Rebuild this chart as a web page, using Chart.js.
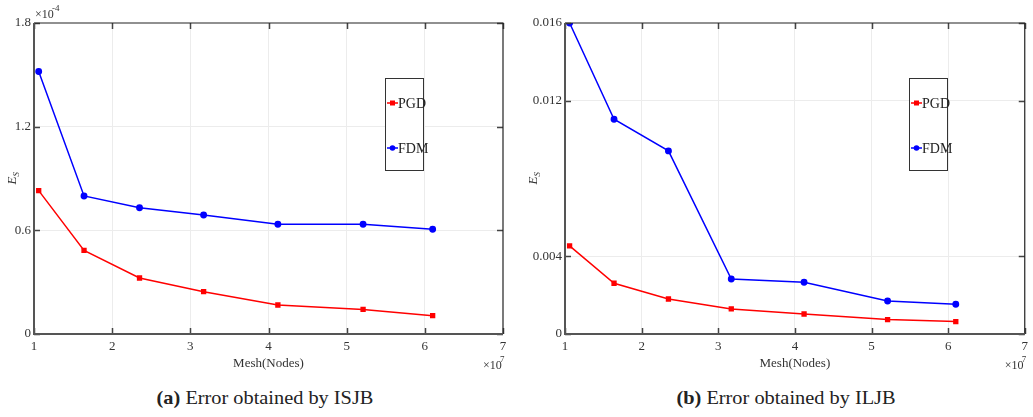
<!DOCTYPE html>
<html>
<head>
<meta charset="utf-8">
<script src="https://cdn.jsdelivr.net/npm/chart.js@4.4.1/dist/chart.umd.min.js"></script>
<style>
  body { margin: 0; background: #fff; width: 1033px; height: 417px; overflow: hidden; position: relative; }
  .box { position: absolute; top: 0; height: 375px; }
  #left { left: 0; width: 516px; }
  #right { left: 516px; width: 517px; }
  .cap { position: absolute; top: 387px; font-family: "Liberation Serif", serif; font-size: 19px; color: #222;
         white-space: nowrap; transform: translateX(-50%) scaleX(1.07); }
</style>
</head>
<body>
<div class="box" id="left"><canvas id="chartA"></canvas></div>
<div class="box" id="right"><canvas id="chartB"></canvas></div>
<div class="cap" style="left:265px"><b>(a)</b> Error obtained by ISJB</div>
<div class="cap" style="left:786px"><b>(b)</b> Error obtained by ILJB</div>
<script>
// mesh size, x 10^7 nodes
const meshNodes = [1.06, 1.64, 2.35, 3.17, 4.12, 5.21, 6.10];

// (a) ISJB, values in units of 10^-4
const pgdISJB = [0.830, 0.484, 0.324, 0.245, 0.168, 0.142, 0.106];
const fdmISJB = [1.519, 0.799, 0.731, 0.689, 0.635, 0.635, 0.606];

// (b) ILJB
const pgdILJB = [0.00453, 0.00261, 0.00180, 0.00129, 0.00103, 0.00074, 0.00064];
const fdmILJB = [0.0160, 0.01105, 0.00942, 0.00283, 0.00266, 0.00170, 0.00153];

const xTicks = [1, 2, 3, 4, 5, 6, 7];
const yTicksA = [0, 0.6, 1.2, 1.8];
const yTicksB = [0, 0.004, 0.012, 0.016];

const serif = '"Liberation Serif", "Times New Roman", serif';

function pts(ys) {
  return meshNodes.map((x, i) => ({ x: x, y: ys[i] }));
}

// frame, inner ticks, axis title, exponents and boxed legend
const decor = {
  id: "decor",
  afterDatasetsDraw(chart, args, opts) {
    const ctx = chart.ctx;
    const a = chart.chartArea;
    const xs = chart.scales.x, ys = chart.scales.y;
    ctx.save();
    // ticks
    ctx.strokeStyle = "#444";
    ctx.lineWidth = 1.5;
    xs.ticks.forEach((t) => {
      const px = Math.round(xs.getPixelForValue(t.value)) + 0.5;
      ctx.beginPath();
      ctx.moveTo(px, a.bottom); ctx.lineTo(px, a.bottom - 6);
      ctx.moveTo(px, a.top); ctx.lineTo(px, a.top + 6);
      ctx.stroke();
    });
    ys.ticks.forEach((t) => {
      const py = Math.round(ys.getPixelForValue(t.value)) + 0.5;
      ctx.beginPath();
      ctx.moveTo(a.left, py); ctx.lineTo(a.left + 6, py);
      ctx.moveTo(a.right, py); ctx.lineTo(a.right - 6, py);
      ctx.stroke();
    });
    // frame
    ctx.strokeStyle = "#222";
    ctx.lineWidth = 1.2;
    ctx.beginPath();
    ctx.moveTo(a.left, a.top); ctx.lineTo(a.right, a.top); ctx.lineTo(a.right, a.bottom);
    ctx.stroke();
    ctx.strokeStyle = "#555";
    ctx.lineWidth = 2;
    ctx.beginPath();
    ctx.moveTo(a.left, a.top); ctx.lineTo(a.left, a.bottom); ctx.lineTo(a.right, a.bottom);
    ctx.stroke();

    ctx.fillStyle = "#333";
    // x axis title
    ctx.font = "13px " + serif;
    ctx.textAlign = "center";
    ctx.textBaseline = "alphabetic";
    ctx.fillText("Mesh(Nodes)", (a.left + a.right) / 2, a.bottom + 33);
    // x exponent
    ctx.textAlign = "left";
    ctx.font = "12px " + serif;
    ctx.fillText("\u00d710", a.right - 20, a.bottom + 35);
    ctx.font = "9px " + serif;
    ctx.fillText("7", a.right - 3, a.bottom + 28);
    // y exponent
    if (opts.yExp) {
      ctx.font = "12px " + serif;
      ctx.fillText("\u00d710", a.left + 1, a.top - 5);
      ctx.font = "9px " + serif;
      ctx.fillText(opts.yExp, a.left + 18, a.top - 12);
    }
    // y axis title E_S
    ctx.save();
    ctx.translate(opts.yTitleX, (a.top + a.bottom) / 2);
    ctx.rotate(-Math.PI / 2);
    ctx.font = "italic 13px " + serif;
    ctx.textAlign = "left";
    ctx.fillText("E", -6, 4);
    ctx.font = "italic 9px " + serif;
    ctx.fillText("S", 2, 7);
    ctx.restore();

    // legend box
    const L = opts.legend;
    ctx.fillStyle = "#fff";
    ctx.fillRect(L.x, L.y, L.w, L.h);
    ctx.strokeStyle = "#333";
    ctx.lineWidth = 1;
    ctx.strokeRect(L.x + 0.5, L.y + 0.5, L.w, L.h);
    chart.data.datasets.forEach((ds, i) => {
      const cy = L.y + L.rows[i];
      ctx.strokeStyle = ds.borderColor;
      ctx.fillStyle = ds.borderColor;
      ctx.lineWidth = 1.5;
      ctx.beginPath();
      ctx.moveTo(L.x + 2, cy); ctx.lineTo(L.x + 13, cy);
      ctx.stroke();
      ctx.beginPath();
      if (ds.pointStyle === "rect") ctx.rect(L.x + 5, cy - 2.5, 5, 5);
      else ctx.arc(L.x + 7.5, cy, 2.8, 0, Math.PI * 2);
      ctx.fill();
      ctx.fillStyle = "#222";
      ctx.font = "14px " + serif;
      ctx.textBaseline = "middle";
      ctx.fillText(ds.label, L.x + 13, cy + 1);
      ctx.textBaseline = "alphabetic";
    });
    ctx.restore();
  }
};

function makeChart(id, pgd, fdm, yMax, yTicks, fmt, pad, yExp, yTitleX, legend) {
  const gridColor = (c) => (c.tick && c.index > 0 && c.index < c.scale.ticks.length - 1 ? "#ececec" : "transparent");
  return new Chart(document.getElementById(id), {
    type: "line",
    data: {
      datasets: [
        { label: "PGD", data: pts(pgd), borderColor: "#ff0000", backgroundColor: "#ff0000",
          pointStyle: "rect", pointRadius: 2.7, borderWidth: 1.5, tension: 0 },
        { label: "FDM", data: pts(fdm), borderColor: "#0000ff", backgroundColor: "#0000ff",
          pointStyle: "circle", pointRadius: 2.7, borderWidth: 1.5, tension: 0 }
      ]
    },
    options: {
      responsive: true,
      maintainAspectRatio: false,
      animation: false,
      layout: { padding: pad },
      plugins: {
        legend: { display: false },
        tooltip: { enabled: false },
        decor: { yExp: yExp, yTitleX: yTitleX, legend: legend }
      },
      scales: {
        x: {
          type: "linear", min: 1, max: 7,
          afterBuildTicks: (s) => { s.ticks = xTicks.map((v) => ({ value: v })); },
          afterFit: (s) => { s.height = 41; },
          grid: { color: gridColor, drawTicks: false },
          border: { display: false },
          ticks: { font: { family: serif, size: 13 }, color: "#333", padding: 5, maxRotation: 0, autoSkip: false,
                   callback: (v) => String(v) }
        },
        y: {
          type: "linear", min: 0, max: yMax,
          afterBuildTicks: (s) => { s.ticks = yTicks.map((v) => ({ value: v })); },
          afterFit: (s) => { s.width = pad.yw; },
          grid: { color: gridColor, drawTicks: false },
          border: { display: false },
          ticks: { font: { family: serif, size: 13 }, color: "#333", padding: 3, autoSkip: false, callback: fmt }
        }
      }
    },
    plugins: [decor]
  });
}

makeChart("chartA", pgdISJB, fdmISJB, 1.8, yTicksA, (v) => (v === 0 ? "0" : v.toFixed(1)),
  { top: 23, right: 13, left: 0, bottom: 0, yw: 34 }, "-4", 12,
  { x: 385, y: 78, w: 38, h: 92, rows: [25, 70] });

makeChart("chartB", pgdILJB, fdmILJB, 0.016, yTicksB, (v) => (v === 0 ? "0" : v.toFixed(3)),
  { top: 23, right: 6, left: 0, bottom: 0, yw: 49 }, null, 17,
  { x: 393, y: 78, w: 38, h: 92, rows: [25, 70] });
</script>
</body>
</html>
